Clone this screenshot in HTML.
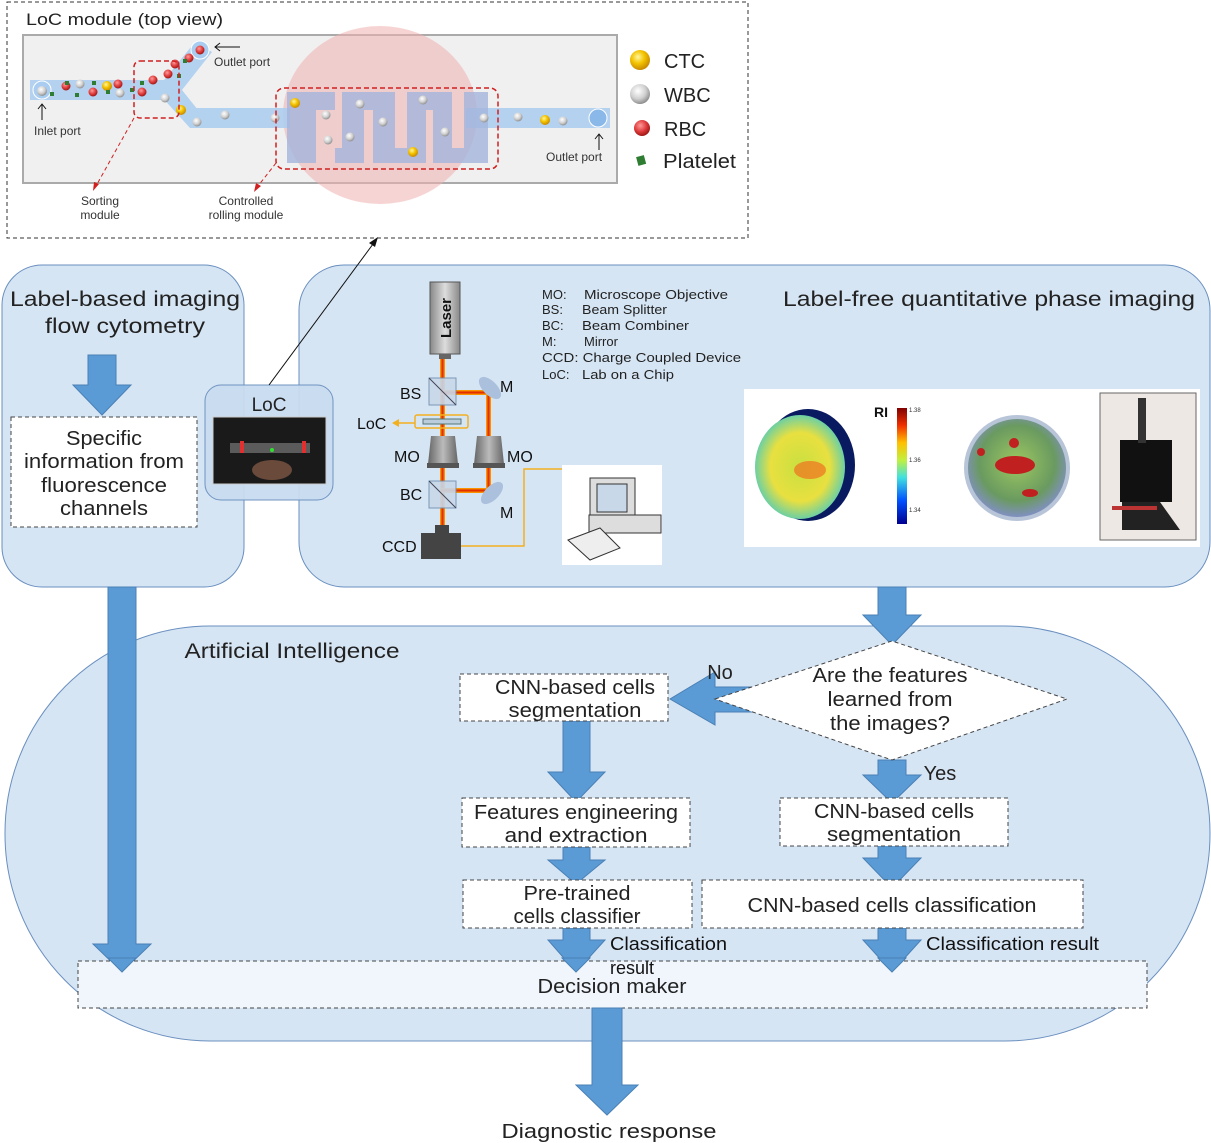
<!DOCTYPE html>
<html><head><meta charset="utf-8"><style>
body{margin:0;background:#fff}
svg{display:block;font-family:"Liberation Sans",sans-serif}
</style></head><body>
<svg width="1211" height="1143" viewBox="0 0 1211 1143" xmlns="http://www.w3.org/2000/svg">
<defs>
<radialGradient id="ctc" cx="40%" cy="35%" r="65%"><stop offset="0" stop-color="#fff6a0"/><stop offset=".5" stop-color="#f4c400"/><stop offset="1" stop-color="#c88a00"/></radialGradient>
<radialGradient id="wbc" cx="40%" cy="35%" r="65%"><stop offset="0" stop-color="#fff"/><stop offset=".6" stop-color="#d0d0d0"/><stop offset="1" stop-color="#909090"/></radialGradient>
<radialGradient id="rbc" cx="40%" cy="35%" r="65%"><stop offset="0" stop-color="#ff9a9a"/><stop offset=".6" stop-color="#dd3a3a"/><stop offset="1" stop-color="#a01818"/></radialGradient>
<linearGradient id="beam" x1="0" x2="1"><stop offset="0" stop-color="#ffb000"/><stop offset=".5" stop-color="#e02000"/><stop offset="1" stop-color="#ffb000"/></linearGradient>
<linearGradient id="beamh" x1="0" y1="0" x2="0" y2="1"><stop offset="0" stop-color="#ffb000"/><stop offset=".5" stop-color="#e02000"/><stop offset="1" stop-color="#ffb000"/></linearGradient>
<linearGradient id="laser" x1="0" x2="1"><stop offset="0" stop-color="#888"/><stop offset=".5" stop-color="#ddd"/><stop offset="1" stop-color="#888"/></linearGradient>
<linearGradient id="mo" x1="0" x2="1"><stop offset="0" stop-color="#666"/><stop offset=".5" stop-color="#bbb"/><stop offset="1" stop-color="#666"/></linearGradient>
<radialGradient id="cell1" cx="50%" cy="50%" r="55%"><stop offset="0" stop-color="#c8e040"/><stop offset=".6" stop-color="#e8e040"/><stop offset=".9" stop-color="#70d0a0"/><stop offset="1" stop-color="#40a0e0"/></radialGradient>
<radialGradient id="cell2" cx="50%" cy="45%" r="55%"><stop offset="0" stop-color="#9cc860"/><stop offset=".7" stop-color="#6a9a60"/><stop offset="1" stop-color="#8090c0"/></radialGradient>
<linearGradient id="cbar" x1="0" y1="1" x2="0" y2="0"><stop offset="0" stop-color="#000090"/><stop offset=".2" stop-color="#0050ff"/><stop offset=".4" stop-color="#40e0e0"/><stop offset=".55" stop-color="#c0f040"/><stop offset=".7" stop-color="#ffc000"/><stop offset=".85" stop-color="#f03000"/><stop offset="1" stop-color="#800000"/></linearGradient>
</defs>

<rect x="7" y="2" width="741" height="236" fill="#fff" stroke="#333" stroke-dasharray="4,3"/>
<text x="26" y="25" font-size="17" fill="#222" textLength="197" lengthAdjust="spacingAndGlyphs">LoC module (top view)</text>
<rect x="23" y="35" width="594" height="148" fill="#f0f0f0" stroke="#aaa" stroke-width="2"/>
<ellipse cx="380" cy="115" rx="97" ry="89" fill="#f0b0b0" opacity=".55"/>
<g fill="#a9cdf0" opacity=".85">
<rect x="30" y="80" width="145" height="20"/>
<polygon points="160,85 195,42 212,52 178,95"/>
<polygon points="160,95 178,85 198,110 190,128"/>
<rect x="190" y="108" width="100" height="20"/>
<rect x="466" y="108" width="144" height="20"/>
</g>
<path d="M287 92 H488 V163 H287Z M316 110 H335 V163 H316Z M335 92 H342 V148 H335Z M364 110 H373 V163 H364Z M395 92 H407 V148 H395Z M426 110 H433 V163 H426Z M452 92 H464 V148 H452Z" fill="#a4b4dc" fill-rule="evenodd" opacity=".8"/>
<circle cx="42" cy="90" r="9" fill="#a9cdf0" stroke="#fff"/>
<circle cx="200" cy="50" r="9" fill="#a9cdf0" stroke="#fff"/>
<circle cx="598" cy="118" r="9" fill="#8ab8e8" stroke="#fff"/>
<g>
<circle cx="42" cy="91" r="5" fill="url(#wbc)"/>
<circle cx="66" cy="86" r="4.5" fill="url(#rbc)"/><circle cx="80" cy="84" r="4.5" fill="url(#wbc)"/><circle cx="93" cy="92" r="4.5" fill="url(#rbc)"/><circle cx="107" cy="86" r="5" fill="url(#ctc)"/><circle cx="118" cy="84" r="4.5" fill="url(#rbc)"/><circle cx="120" cy="93" r="4.5" fill="url(#wbc)"/><circle cx="142" cy="92" r="4.5" fill="url(#rbc)"/><circle cx="153" cy="80" r="4.5" fill="url(#rbc)"/><circle cx="168" cy="74" r="4.5" fill="url(#rbc)"/><circle cx="175" cy="64" r="4.5" fill="url(#rbc)"/><circle cx="189" cy="58" r="4.5" fill="url(#rbc)"/><circle cx="200" cy="50" r="4.5" fill="url(#rbc)"/><circle cx="165" cy="98" r="4.5" fill="url(#wbc)"/><circle cx="181" cy="110" r="5" fill="url(#ctc)"/><circle cx="197" cy="122" r="4.5" fill="url(#wbc)"/><circle cx="225" cy="115" r="4.5" fill="url(#wbc)"/><circle cx="275" cy="118" r="4.5" fill="url(#wbc)"/><circle cx="295" cy="103" r="5" fill="url(#ctc)"/><circle cx="326" cy="115" r="4.5" fill="url(#wbc)"/><circle cx="360" cy="104" r="4.5" fill="url(#wbc)"/><circle cx="383" cy="122" r="4.5" fill="url(#wbc)"/><circle cx="328" cy="140" r="4.5" fill="url(#wbc)"/><circle cx="350" cy="137" r="4.5" fill="url(#wbc)"/><circle cx="423" cy="100" r="4.5" fill="url(#wbc)"/><circle cx="445" cy="132" r="4.5" fill="url(#wbc)"/><circle cx="413" cy="152" r="5" fill="url(#ctc)"/><circle cx="484" cy="118" r="4.5" fill="url(#wbc)"/><circle cx="518" cy="117" r="4.5" fill="url(#wbc)"/><circle cx="545" cy="120" r="5" fill="url(#ctc)"/><circle cx="563" cy="121" r="4.5" fill="url(#wbc)"/>
</g>
<g fill="#2e7d32"><rect x="50" y="92" width="4" height="4"/><rect x="65" y="81" width="4" height="4"/><rect x="75" y="93" width="4" height="4"/><rect x="92" y="81" width="4" height="4"/><rect x="130" y="88" width="4" height="4"/><rect x="140" y="81" width="4" height="4"/><rect x="106" y="90" width="4" height="4"/><rect x="177" y="74" width="4" height="4"/><rect x="183" y="59" width="4" height="4"/></g>
<rect x="134" y="61" width="45" height="57" rx="6" fill="none" stroke="#d02020" stroke-width="1.5" stroke-dasharray="5,3"/>
<rect x="276" y="88" width="222" height="81" rx="8" fill="none" stroke="#d02020" stroke-width="1.5" stroke-dasharray="5,3"/>
<line x1="134" y1="118" x2="96" y2="186" stroke="#d02020" stroke-dasharray="4,3"/><polygon points="93,191 94,182 99,184" fill="#d02020"/>
<line x1="276" y1="163" x2="258" y2="186" stroke="#d02020" stroke-dasharray="4,3"/><polygon points="254,192 256,183 261,186" fill="#d02020"/>
<g font-size="12" fill="#333">
<text x="214" y="66">Outlet port</text><text x="34" y="135">Inlet port</text><text x="546" y="161">Outlet port</text>
<text x="100" y="205" text-anchor="middle">Sorting</text><text x="100" y="219" text-anchor="middle">module</text>
<text x="246" y="205" text-anchor="middle">Controlled</text><text x="246" y="219" text-anchor="middle">rolling module</text>
</g>
<g stroke="#111" fill="none"><line x1="215" y1="47" x2="240" y2="47"/><polyline points="220,43 215,47 220,51"/><line x1="42" y1="104" x2="42" y2="120"/><polyline points="38,109 42,104 46,109"/><line x1="599" y1="134" x2="599" y2="150"/><polyline points="595,139 599,134 603,139"/></g>
<circle cx="640" cy="60" r="10" fill="url(#ctc)"/><circle cx="640" cy="94" r="10" fill="url(#wbc)"/><circle cx="642" cy="128" r="8" fill="url(#rbc)"/><rect x="637" y="156" width="8" height="9" fill="#2e7d32" transform="rotate(-15 641 160)"/>
<g font-size="20" fill="#222"><text x="664" y="68">CTC</text><text x="664" y="102">WBC</text><text x="664" y="136">RBC</text><text x="663" y="168" textLength="73" lengthAdjust="spacingAndGlyphs">Platelet</text></g>

<rect x="5" y="626" width="1205" height="415" rx="205" ry="207" fill="#d6e5f4" stroke="#6a8fbf"/>
<rect x="2" y="265" width="242" height="322" rx="40" fill="#d6e5f4" stroke="#6a8fbf"/>
<rect x="299" y="265" width="911" height="322" rx="45" fill="#d6e5f4" stroke="#6a8fbf"/>
<g font-size="21" text-anchor="middle" fill="#222">
<text x="125" y="306" textLength="230" lengthAdjust="spacingAndGlyphs">Label-based imaging</text>
<text x="125" y="333" textLength="160" lengthAdjust="spacingAndGlyphs">flow cytometry</text>
<text x="989" y="306" textLength="412" lengthAdjust="spacingAndGlyphs">Label-free quantitative phase imaging</text>
<text x="292" y="658" textLength="215" lengthAdjust="spacingAndGlyphs">Artificial Intelligence</text>
</g>
<rect x="11" y="417" width="186" height="110" fill="#fff" stroke="#444" stroke-dasharray="4,3"/>
<g font-size="20" text-anchor="middle" fill="#222"><text x="104" y="445" textLength="76" lengthAdjust="spacingAndGlyphs">Specific</text><text x="104" y="468" textLength="160" lengthAdjust="spacingAndGlyphs">information from</text><text x="104" y="492" textLength="126" lengthAdjust="spacingAndGlyphs">fluorescence</text><text x="104" y="515" textLength="88" lengthAdjust="spacingAndGlyphs">channels</text></g>

<rect x="205" y="385" width="128" height="115" rx="16" fill="#c9dcf0" stroke="#6a8fbf" opacity=".95"/>
<text x="269" y="411" font-size="19" text-anchor="middle" fill="#222">LoC</text>
<rect x="213" y="417" width="113" height="67" fill="#1a1a1a" stroke="#ccc"/>
<rect x="230" y="443" width="80" height="10" fill="#777" opacity=".7"/>
<rect x="240" y="441" width="4" height="12" fill="#e03030"/><rect x="302" y="441" width="4" height="12" fill="#e03030"/>
<circle cx="272" cy="450" r="2" fill="#30e030"/>
<ellipse cx="272" cy="470" rx="20" ry="10" fill="#6a4a3a"/>
<line x1="269" y1="385" x2="376" y2="240" stroke="#111"/><polygon points="378,237 369,243 375,247" fill="#111"/>

<rect x="430" y="282" width="30" height="72" fill="url(#laser)" stroke="#555"/>
<text transform="translate(451 318) rotate(-90)" font-size="15" font-weight="bold" text-anchor="middle" fill="#111">Laser</text>
<rect x="439" y="354" width="12" height="5" fill="#666"/>
<rect x="440" y="359" width="5" height="170" fill="url(#beam)"/>
<rect x="441" y="390" width="55" height="5" fill="url(#beamh)"/>
<rect x="486" y="392" width="5" height="108" fill="url(#beam)"/>
<rect x="441" y="488" width="50" height="5" fill="url(#beamh)"/>
<rect x="429" y="378" width="27" height="27" fill="#c8d8ea" stroke="#7090b0" opacity=".9"/><line x1="429" y1="378" x2="456" y2="405" stroke="#445"/>
<rect x="429" y="481" width="27" height="27" fill="#c8d8ea" stroke="#7090b0" opacity=".9"/><line x1="429" y1="481" x2="456" y2="508" stroke="#445"/>
<ellipse cx="490" cy="388" rx="7" ry="14" fill="#aac0dc" transform="rotate(-45 490 388)"/>
<ellipse cx="492" cy="493" rx="7" ry="14" fill="#aac0dc" transform="rotate(45 492 493)"/>
<rect x="415" y="415" width="53" height="13" rx="2" fill="none" stroke="#f2b01e" stroke-width="1.5"/>
<rect x="423" y="419" width="38" height="5" fill="#bcd" stroke="#577"/>
<line x1="415" y1="423" x2="398" y2="423" stroke="#f2b01e" stroke-width="1.5"/><polygon points="392,423 399,419 399,427" fill="#f2b01e"/>
<path d="M431 436 h24 l3 28 h-30z" fill="url(#mo)"/><rect x="427" y="463" width="32" height="5" fill="#555"/>
<path d="M477 436 h24 l3 28 h-30z" fill="url(#mo)"/><rect x="473" y="463" width="32" height="5" fill="#555"/>
<rect x="435" y="525" width="14" height="9" fill="#444"/><rect x="421" y="533" width="40" height="26" fill="#444"/>
<polyline points="461,546 524,546 524,469 580,469" fill="none" stroke="#f2b01e" stroke-width="1.5"/><polygon points="587,469 579,465 579,473" fill="#f2b01e"/>
<g font-size="16" fill="#111"><text x="400" y="399">BS</text><text x="500" y="392">M</text><text x="357" y="429">LoC</text><text x="394" y="462">MO</text><text x="507" y="462">MO</text><text x="400" y="500">BC</text><text x="500" y="518">M</text><text x="382" y="552">CCD</text></g>
<g font-size="13" fill="#222"><text x="542" y="299">MO:</text><text x="584" y="299" textLength="144" lengthAdjust="spacingAndGlyphs">Microscope Objective</text><text x="542" y="314">BS:</text><text x="582" y="314" textLength="85" lengthAdjust="spacingAndGlyphs">Beam Splitter</text><text x="542" y="330">BC:</text><text x="582" y="330" textLength="107" lengthAdjust="spacingAndGlyphs">Beam Combiner</text><text x="542" y="346">M:</text><text x="584" y="346">Mirror</text><text x="542" y="362" textLength="199" lengthAdjust="spacingAndGlyphs">CCD: Charge Coupled Device</text><text x="542" y="379">LoC:</text><text x="582" y="379" textLength="92" lengthAdjust="spacingAndGlyphs">Lab on a Chip</text></g>
<rect x="562" y="465" width="100" height="100" fill="#fff"/>
<rect x="590" y="478" width="45" height="40" fill="#ddd" stroke="#333"/><rect x="597" y="484" width="30" height="28" fill="#c8d8e8" stroke="#333"/>
<rect x="589" y="515" width="72" height="18" fill="#ddd" stroke="#333"/>
<polygon points="568,540 600,528 620,548 590,560" fill="#eee" stroke="#333"/>

<rect x="744" y="389" width="456" height="158" fill="#fff"/>
<ellipse cx="808" cy="465" rx="47" ry="56" fill="#0a1a60"/>
<ellipse cx="800" cy="467" rx="45" ry="52" fill="url(#cell1)"/>
<ellipse cx="810" cy="470" rx="16" ry="9" fill="#f07020" opacity=".7"/>
<text x="874" y="417" font-size="14" font-weight="bold" fill="#111">RI</text>
<rect x="897" y="408" width="10" height="116" fill="url(#cbar)"/>
<g font-size="6" fill="#333"><text x="909" y="412">1.38</text><text x="909" y="462">1.36</text><text x="909" y="512">1.34</text></g>
<circle cx="1017" cy="468" r="53" fill="#b8c4d8"/><circle cx="1017" cy="468" r="49" fill="url(#cell2)"/>
<ellipse cx="1015" cy="465" rx="20" ry="9" fill="#c02020"/><circle cx="1014" cy="443" r="5" fill="#c02020"/><circle cx="981" cy="452" r="4" fill="#c02020"/><ellipse cx="1030" cy="493" rx="8" ry="4" fill="#c02020"/>
<rect x="1100" y="393" width="96" height="147" fill="#eee8e4" stroke="#666"/>
<rect x="1120" y="440" width="52" height="62" fill="#111"/><rect x="1138" y="398" width="8" height="45" fill="#333"/>
<polygon points="1122,502 1160,502 1180,530 1122,530" fill="#222"/><rect x="1112" y="506" width="45" height="4" fill="#b33"/>

<g fill="#5b9bd5" stroke="#4a80b5" stroke-width="1">
<polygon points="88,355 116,355 116,385 131,385 102,415 73,385 88,385"/>
<polygon points="108,587 136,587 136,944 151,944 122,972 93,944 108,944"/>
<polygon points="878,587 906,587 906,615 921,615 892,645 863,615 878,615"/>
<polygon points="755,687 715,687 715,672 670,699 715,725 715,712 755,712"/>
<polygon points="563,721 590,721 590,772 605,772 576,802 548,772 563,772"/>
<polygon points="878,760 906,760 906,775 921,775 892,803 863,775 878,775"/>
<polygon points="563,847 590,847 590,860 605,860 576,884 548,860 563,860"/>
<polygon points="878,845 906,845 906,858 921,858 892,888 863,858 878,858"/>
<polygon points="563,928 590,928 590,940 605,940 576,972 548,940 563,940"/>
<polygon points="878,928 906,928 906,940 921,940 892,972 863,940 878,940"/>
</g>
<polygon points="715,699 892,641 1067,699 892,760" fill="#fff" stroke="#444" stroke-dasharray="4,3"/>
<g font-size="20" text-anchor="middle" fill="#222">
<text x="890" y="682" textLength="155" lengthAdjust="spacingAndGlyphs">Are the features</text><text x="890" y="706" textLength="125" lengthAdjust="spacingAndGlyphs">learned from</text><text x="890" y="730" textLength="120" lengthAdjust="spacingAndGlyphs">the images?</text>
<text x="720" y="679">No</text><text x="940" y="780">Yes</text>
</g>
<g fill="#fff" stroke="#444" stroke-dasharray="4,3">
<rect x="460" y="674" width="208" height="47"/>
<rect x="462" y="798" width="228" height="49"/>
<rect x="463" y="880" width="229" height="48"/>
<rect x="780" y="798" width="228" height="48"/>
<rect x="702" y="880" width="381" height="48"/>
</g>
<rect x="78" y="961" width="1069" height="47" fill="#f0f6fc" stroke="#444" stroke-dasharray="4,3"/>
<g fill="#5b9bd5" stroke="#4a80b5"><polygon points="122,972 108,958 136,958"/><polygon points="576,972 562,958 590,958"/><polygon points="892,972 878,958 906,958"/>
<polygon points="592,1008 622,1008 622,1085 638,1085 607,1115 576,1085 592,1085"/></g>
<g font-size="20" text-anchor="middle" fill="#222">
<text x="575" y="694" textLength="160" lengthAdjust="spacingAndGlyphs">CNN-based cells</text><text x="575" y="717" textLength="133" lengthAdjust="spacingAndGlyphs">segmentation</text>
<text x="576" y="819" textLength="204" lengthAdjust="spacingAndGlyphs">Features engineering</text><text x="576" y="842" textLength="143" lengthAdjust="spacingAndGlyphs">and extraction</text>
<text x="577" y="900" textLength="107" lengthAdjust="spacingAndGlyphs">Pre-trained</text><text x="577" y="923" textLength="127" lengthAdjust="spacingAndGlyphs">cells classifier</text>
<text x="894" y="818" textLength="160" lengthAdjust="spacingAndGlyphs">CNN-based cells</text><text x="894" y="841" textLength="134" lengthAdjust="spacingAndGlyphs">segmentation</text>
<text x="892" y="912" textLength="289" lengthAdjust="spacingAndGlyphs">CNN-based cells classification</text>
<text x="612" y="993" textLength="149" lengthAdjust="spacingAndGlyphs">Decision maker</text>
<text x="609" y="1138" textLength="215" lengthAdjust="spacingAndGlyphs">Diagnostic response</text>
</g>
<g font-size="18" fill="#111"><text x="610" y="950" textLength="117" lengthAdjust="spacingAndGlyphs">Classification</text><text x="610" y="974">result</text><text x="926" y="950" textLength="173" lengthAdjust="spacingAndGlyphs">Classification result</text></g>
</svg>
</body></html>
